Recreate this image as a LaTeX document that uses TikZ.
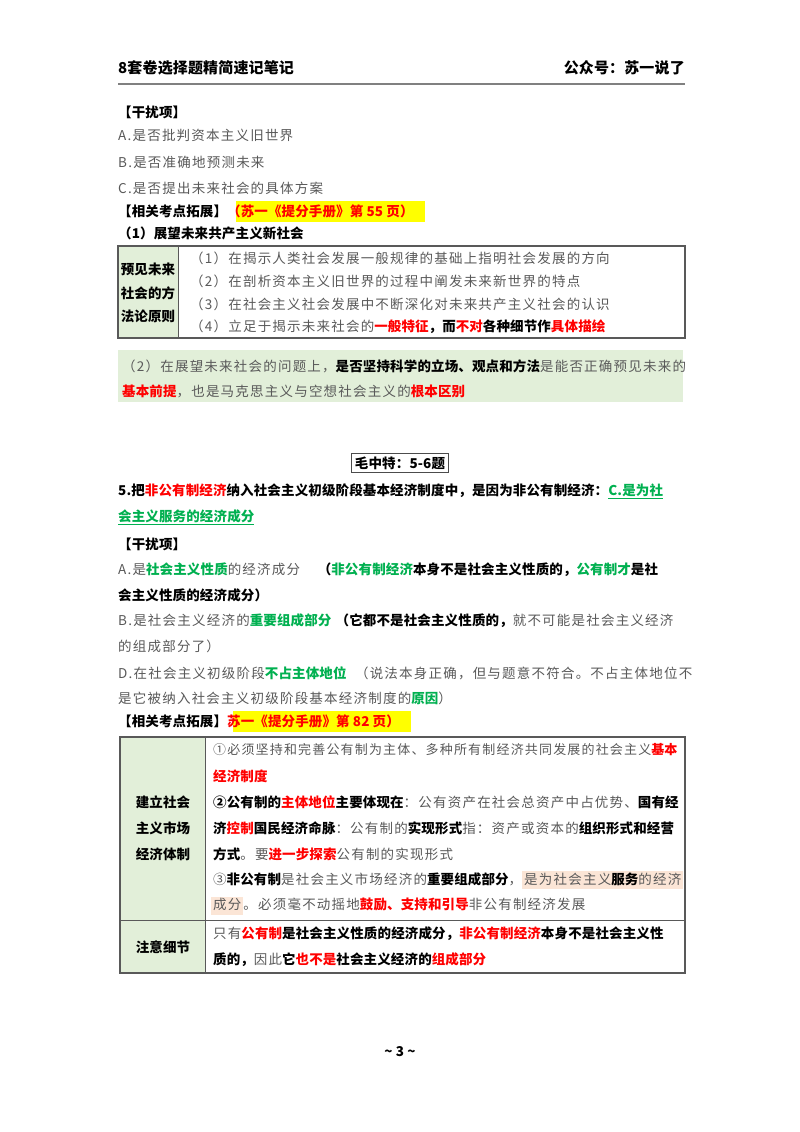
\documentclass[tikz,border=0pt]{standalone}
\usepackage{fontspec}
\setmainfont{Noto Sans CJK SC}[LetterSpace=9,BoldFeatures={LetterSpace=1}]
\usetikzlibrary{positioning}
\definecolor{txt}{HTML}{595959}
\definecolor{myred}{HTML}{FF0000}
\definecolor{mygreen}{HTML}{00B050}
\definecolor{lgreen}{HTML}{E2EFD9}
\definecolor{peach}{HTML}{FBE5D6}
\definecolor{yel}{HTML}{FFFF00}
\newcommand{\R}[1]{{\bfseries\color{myred}#1}}
\newcommand{\G}[1]{{\bfseries\color{mygreen}#1}}
\newcommand{\B}[1]{{\bfseries\color{black}#1}}
\newcommand{\HL}[1]{{\setlength\fboxsep{2pt}\colorbox{peach}{\vphantom{Ag}#1}}}
\begin{document}
\begin{tikzpicture}[x=1pt,y=-1pt,
  t/.style={anchor=west,inner sep=0pt,text=txt,font=\fontsize{13.5}{16}\selectfont},
  tb/.style={t,text=black,font=\fontsize{13.5}{16}\selectfont\bfseries},
  lc/.style={anchor=center,inner sep=0pt,align=center,font=\fontsize{13.5}{23.5}\selectfont\bfseries}]
\useasboundingbox (0,0) rectangle (800,1132);
\fill[white] (0,0) rectangle (800,1132);
% header
\node[tb,font=\fontsize{15}{16}\selectfont\bfseries] (h1) at (118,68) {8套卷选择题精简速记笔记};
\node[tb,anchor=east,font=\fontsize{15}{16}\selectfont\bfseries] (h2) at (685,68) {公众号：苏一说了};
\draw[gray,line width=2pt] (118,84) -- (685,84);
% part 1
\node[tb] (g1) at (118,112) {【干扰项】};
\node[t] (a1) at (118,135) {A.是否批判资本主义旧世界};
\node[t] (b1) at (118,162) {B.是否准确地预测未来};
\node[t] (c1) at (118,188) {C.是否提出未来社会的具体方案};
\fill[yel] (236,201) rectangle (425,222);
\node[tb] (k1) at (118,211) {【相关考点拓展】\color{myred}（苏一《提分手册》第 55 页）};
\node[tb] (s1) at (118,233) {（1）展望未来共产主义新社会};
% table 1
\fill[lgreen] (118,246) rectangle (178,338);
\draw[gray!70!black,line width=1.2pt] (118,246) rectangle (685,338);
\draw[gray!70!black,line width=1pt] (178,246) -- (178,338);
\node[lc] (l1) at (148,293) {预见未来\\社会的方\\法论原则};
\node[t] (r1) at (190,258) {（1）在揭示人类社会发展一般规律的基础上指明社会发展的方向};
\node[t] (r2) at (190,281) {（2）在剖析资本主义旧世界的过程中阐发未来新世界的特点};
\node[t] (r3) at (190,304) {（3）在社会主义社会发展中不断深化对未来共产主义社会的认识};
\node[t] (r4) at (190,327) {（4）立足于揭示未来社会的\R{一般特征}\B{，而}\R{不对}\B{各种细节作}\R{具体描绘}};
% green box
\fill[lgreen] (118,350) rectangle (683,402);
\node[t] (p1) at (122,366) {（2）在展望未来社会的问题上，\B{是否坚持科学的立场、观点和方法}是能否正确预见未来的};
\node[t] (p2) at (122,391) {\R{基本前提}，也是马克思主义与空想社会主义的\R{根本区别}};
% title box
\node[draw=black!70,line width=1pt,inner sep=3pt,font=\fontsize{13.5}{16}\selectfont\bfseries] (tt) at (400,463) {毛中特：5-6题};
% Q5
\node[tb] (q1) at (118,491) {5.把\R{非公有制经济}纳入社会主义初级阶段基本经济制度中，是因为非公有制经济：\G{\underline{C.是为社}}};
\node[tb] (q2) at (118,517) {\G{\underline{会主义服务的经济成分}}};
\node[tb] (g2) at (118,544) {【干扰项】};
\node[t] (a2) at (118,570) {A.是\G{社会主义性质}的经济成分\quad\ \B{（}\G{非公有制经济}\B{本身不是社会主义性质的，}\G{公有制才}\B{是社}};
\node[tb] (a3) at (118,595) {会主义性质的经济成分）};
\node[t] (b2) at (118,621) {B.是社会主义经济的\G{重要组成部分}\ \B{（它都不是社会主义性质的，}就不可能是社会主义经济};
\node[t] (b3) at (118,646) {的组成部分了）};
\node[t] (d2) at (118,673) {D.在社会主义初级阶段\G{不占主体地位}\ \ （说法本身正确，但与题意不符合。不占主体地位不};
\node[t] (d3) at (118,698) {是它被纳入社会主义初级阶段基本经济制度的\G{原因}）};
\fill[yel] (233,711) rectangle (411,732);
\node[tb] (k2) at (118,721) {【相关考点拓展】\color{myred}苏一《提分手册》第 82 页）};
% table 2
\fill[lgreen] (120,737) rectangle (205,973);
\draw[gray!70!black,line width=1.2pt] (120,737) rectangle (685,973);
\draw[gray!70!black,line width=1pt] (205,737) -- (205,973) (120,920) -- (685,920);
\node[lc,font=\fontsize{13.5}{26}\selectfont\bfseries] (l2) at (163,828) {建立社会\\主义市场\\经济体制};
\node[lc] (l3) at (163,947) {注意细节};
\node[t,font=\fontsize{13}{16}\selectfont] (w1) at (213,750) {①必须坚持和完善公有制为主体、多种所有制经济共同发展的社会主义\R{基本}};
\node[t] (w2) at (213,776) {\R{经济制度}};
\node[t] (w3) at (213,802) {\B{②公有制的}\R{主体地位}\B{主要体现在}：公有资产在社会总资产中占优势、\B{国有经}};
\node[t] (w4) at (213,828) {\B{济}\R{控制}\B{国民经济命脉}：公有制的\B{实现形式}指：资产或资本的\B{组织形式和经营}};
\node[t] (w5) at (213,854) {\B{方式}。要\R{进一步探索}公有制的实现形式};
\node[t] (w6) at (213,880) {③\B{非公有制}是社会主义市场经济的\B{重要组成部分}，\HL{是为社会主义\B{服务}的经济}};
\node[t] (w7) at (211,906) {\HL{成分}。必须毫不动摇地\R{鼓励、支持和引导}非公有制经济发展};
\node[t] (v1) at (213,934) {只有\R{公有制}\B{是社会主义性质的经济成分，}\R{非公有制经济}\B{本身不是社会主义性}};
\node[t] (v2) at (213,960) {\B{质的，}因此\B{它}\R{也不是}\B{社会主义经济的}\R{组成部分}};
% footer
\node[tb,anchor=center] (ft) at (400,1052) {\textasciitilde{} 3 \textasciitilde};
\end{tikzpicture}
\end{document}
